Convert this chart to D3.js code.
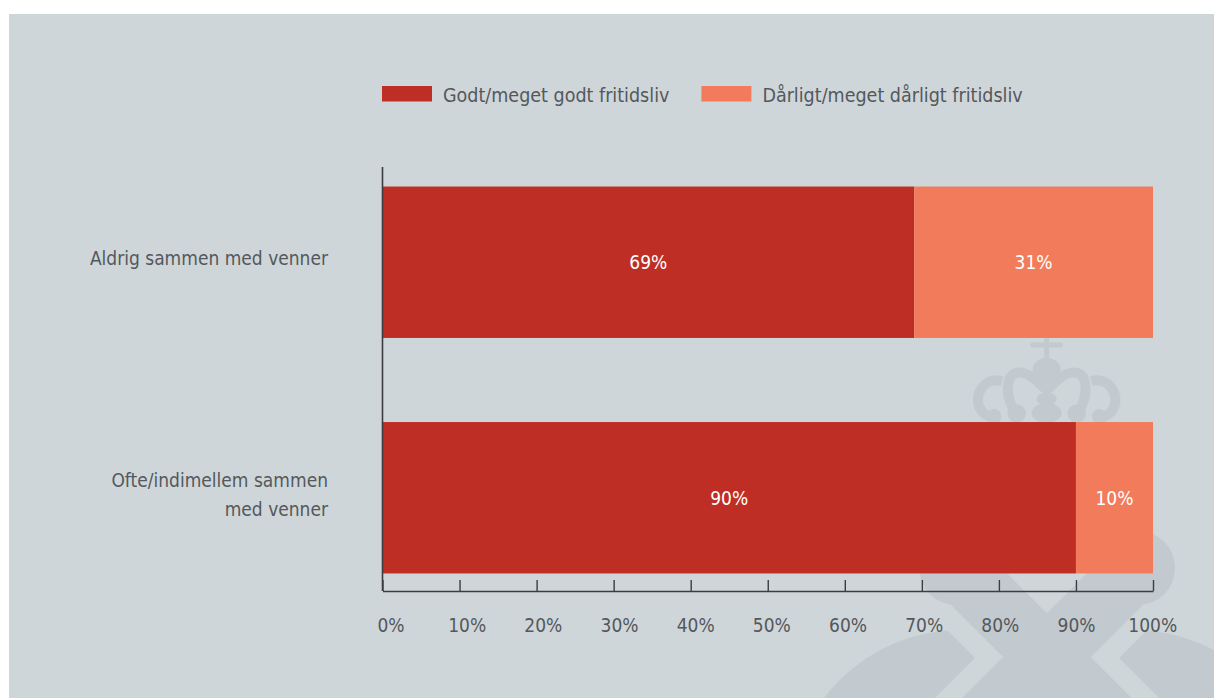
<!DOCTYPE html>
<html><head><meta charset="utf-8">
<script src="https://cdn.jsdelivr.net/npm/d3@7"></script>
<style>
html,body{margin:0;padding:0;background:#fff;}
svg{display:block;}
text{font-family:"DejaVu Sans Condensed","DejaVu Sans",sans-serif;font-stretch:condensed;}
</style></head><body>
<svg id="chart" width="1214" height="698"></svg>
<script>
// ---- data ----
const categories = ["Aldrig sammen med venner", "Ofte/indimellem sammen med venner"];
const categoryLines = [["Aldrig sammen med venner"], ["Ofte/indimellem sammen", "med venner"]];
const seriesNames = ["Godt/meget godt fritidsliv", "Dårligt/meget dårligt fritidsliv"];
const goodValues = [69, 90];
const badValues = [31, 10];
const tickValues = [0, 10, 20, 30, 40, 50, 60, 70, 80, 90, 100];
const tickLabels = ["0%", "10%", "20%", "30%", "40%", "50%", "60%", "70%", "80%", "90%", "100%"];
const colors = ["#bf2e25", "#f27b5c"];

// ---- setup ----
const W = 1214, H = 698;
const svg = d3.select("#chart");
const textColor = "#54585c";
const axisColor = "#3c3d3f";

svg.append("rect").attr("x", 9).attr("y", 14).attr("width", W - 9).attr("height", H - 14).attr("fill", "#cfd6d9");

// ---- watermark (decorative crown) ----
const defs = svg.append("defs");
defs.append("clipPath").attr("id", "panelClip").append("rect").attr("x", 9).attr("y", 14).attr("width", W - 9).attr("height", H - 14);
defs.append("clipPath").attr("id", "lobeL").append("polygon").attr("points", "975,658 575,258 575,1058");
defs.append("clipPath").attr("id", "lobeR").append("polygon").attr("points", "1119,658 1519,258 1519,1058");
const wmc = "#c3cacf";
const wm = svg.append("g").attr("clip-path", "url(#panelClip)");
wm.append("path").attr("d", "M956,566L1166,776").attr("stroke", wmc).attr("stroke-width", 62).attr("fill", "none");
wm.append("path").attr("d", "M1138,566L928,776").attr("stroke", wmc).attr("stroke-width", 62).attr("fill", "none");
wm.append("circle").attr("cx", 1138).attr("cy", 568).attr("r", 37).attr("fill", wmc);
wm.append("circle").attr("cx", 956).attr("cy", 568).attr("r", 37).attr("fill", wmc);
wm.append("g").attr("clip-path", "url(#lobeL)").append("circle").attr("cx", 960).attr("cy", 800).attr("r", 170).attr("fill", wmc);
wm.append("g").attr("clip-path", "url(#lobeR)").append("circle").attr("cx", 1134).attr("cy", 800).attr("r", 170).attr("fill", wmc);
// crown
const cg = wm.append("g");
cg.append("rect").attr("x", 1030).attr("y", 342.5).attr("width", 33).attr("height", 5).attr("rx", 2.5).attr("fill", wmc);
cg.append("rect").attr("x", 1044.2).attr("y", 336).attr("width", 5).attr("height", 26).attr("fill", wmc);
cg.append("ellipse").attr("cx", 1046.7).attr("cy", 369.5).attr("rx", 14).attr("ry", 11.5).attr("fill", wmc);
cg.append("rect").attr("x", 1042.5).attr("y", 378).attr("width", 8.4).attr("height", 20).attr("fill", wmc);
cg.append("ellipse").attr("cx", 1046.7).attr("cy", 399).attr("rx", 10).attr("ry", 6.5).attr("fill", wmc);
cg.append("ellipse").attr("cx", 1046.7).attr("cy", 413).attr("rx", 15).attr("ry", 10).attr("fill", wmc);
[1, -1].forEach(s => {
  const X = v => s === 1 ? v : 2093.4 - v;
  cg.append("path").attr("d", `M${X(1045)},389 C${X(1035)},378 ${X(1025)},370 ${X(1016)},373 C${X(1006)},376 ${X(1005)},395 ${X(1014)},410`)
    .attr("stroke", wmc).attr("stroke-width", 10).attr("fill", "none");
  cg.append("circle").attr("cx", X(1016.7)).attr("cy", 413.5).attr("r", 9.3).attr("fill", wmc);
  cg.append("path").attr("d", `M${X(1002)},381 C${X(986)},377 ${X(977)},391 ${X(978)},402 C${X(979)},410 ${X(984)},415 ${X(992)},418`)
    .attr("stroke", wmc).attr("stroke-width", 10).attr("fill", "none");
  cg.append("circle").attr("cx", X(994)).attr("cy", 416.5).attr("r", 7.5).attr("fill", wmc);
});

// ---- scales ----
const x = d3.scaleLinear().domain([0, 100]).range([382.5, 1153]);
const xLabel = d3.scaleLinear().domain([0, 100]).range([390.5, 1152.2]);
const y = d3.scaleBand().domain(categories).range([168, 592]).paddingInner(0.357).paddingOuter(0.0787);

const rows = categories.map((c, i) => ({ cat: c, good: goodValues[i], bad: badValues[i] }));
const stack = d3.stack().keys(["good", "bad"])(rows);

// ---- bars ----
const barG = svg.append("g");
stack.forEach((layer, li) => {
  barG.selectAll(null).data(layer).join("rect")
    .attr("x", d => x(d[0]))
    .attr("y", d => y(d.data.cat))
    .attr("width", d => x(d[1]) - x(d[0]))
    .attr("height", y.bandwidth())
    .attr("fill", colors[li]);
  barG.selectAll(null).data(layer).join("text")
    .attr("x", d => (x(d[0]) + x(d[1])) / 2)
    .attr("y", d => y(d.data.cat) + y.bandwidth() / 2 + 7)
    .attr("text-anchor", "middle")
    .attr("fill", "#ffffff")
    .attr("font-size", 19)
    .text(d => (d[1] - d[0]) + "%");
});

// ---- axes ----
const xAxisG = svg.append("g").attr("transform", "translate(0,591)")
  .call(d3.axisBottom(x).tickValues(tickValues).tickSize(-11).tickSizeOuter(0).tickFormat(""));
xAxisG.select(".domain").attr("stroke", axisColor).attr("stroke-width", 1.6);
xAxisG.selectAll(".tick line").attr("stroke", axisColor).attr("stroke-width", 1.4);

const xLabG = svg.append("g").attr("transform", "translate(0,632)")
  .call(d3.axisBottom(xLabel).tickValues(tickValues).tickSize(0).tickFormat((d, i) => tickLabels[i]));
xLabG.select(".domain").remove();
xLabG.selectAll("text").attr("y", 0).attr("dy", null).attr("fill", textColor)
  .attr("font-size", 19).attr("font-family", null);

const yAxisG = svg.append("g").attr("transform", "translate(382.5,0)")
  .call(d3.axisLeft(y).tickSize(0).tickSizeOuter(0).tickFormat(""));
yAxisG.select(".domain").attr("d", "M0,167V591").attr("stroke", axisColor).attr("stroke-width", 1.6);

// ---- category labels ----
const catG = svg.append("g");
categories.forEach((c, i) => {
  const lines = categoryLines[i];
  const cy = y(c) + y.bandwidth() / 2;
  const t = catG.append("text").attr("text-anchor", "end").attr("fill", textColor).attr("font-size", 19);
  const first = lines.length === 1 ? cy + 2.5 : cy - 11;
  lines.forEach((ln, j) => {
    t.append("tspan").attr("x", 328).attr("y", first + j * 29.5).text(ln);
  });
});

// ---- legend ----
const legG = svg.append("g");
let lx = 382;
seriesNames.forEach((n, i) => {
  legG.append("rect").attr("x", lx).attr("y", 86).attr("width", 50).attr("height", 15.5).attr("fill", colors[i]);
  const t = legG.append("text").attr("x", lx + 61).attr("y", 101.5).attr("fill", textColor)
    .attr("font-size", 19.5).text(n);
  lx = lx + 61 + t.node().getComputedTextLength() + 32;
});
</script>
</body></html>
